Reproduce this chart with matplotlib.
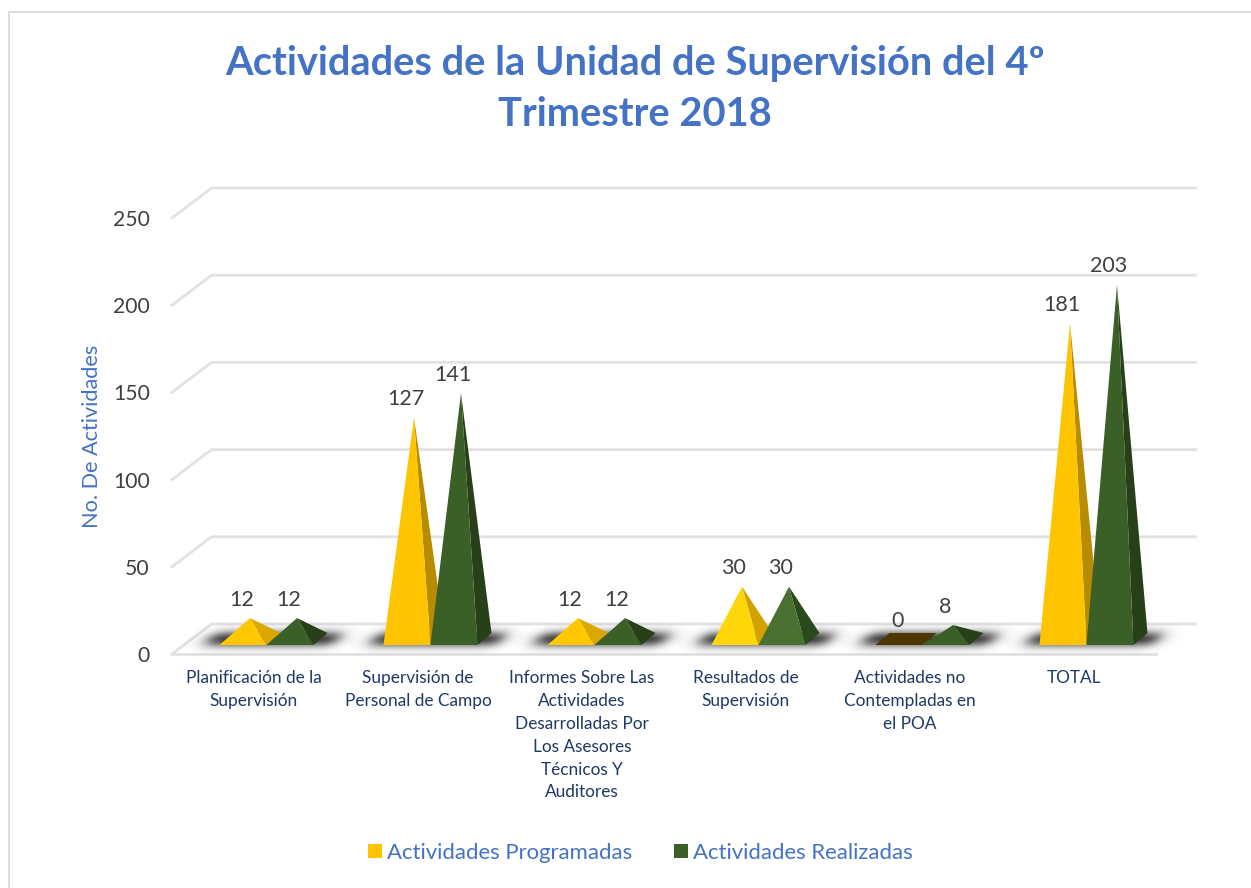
import numpy as np
import matplotlib
matplotlib.use("Agg")
import matplotlib.pyplot as plt
from matplotlib.patches import Polygon, Patch
from matplotlib.lines import Line2D

categories = ["Planificación de la\nSupervisión", "Supervisión de\nPersonal de Campo",
              "Informes Sobre Las\nActividades\nDesarrolladas Por\nLos Asesores\nTécnicos Y\nAuditores",
              "Resultados de\nSupervisión", "Actividades no\nContempladas en\nel POA", "TOTAL"]
programadas = [12, 127, 12, 30, 0, 181]
realizadas = [12, 141, 12, 30, 8, 203]
yticks = [0, 50, 100, 150, 200, 250]
title = "Actividades de la Unidad de Supervisión del 4º\nTrimestre 2018"
ylabel = "No. De Actividades"
series_names = ["Actividades Programadas", "Actividades Realizadas"]

W, H = 1251, 888
plt.rcParams['font.family'] = ['Lato', 'DejaVu Sans']
fig = plt.figure(figsize=(W / 100, H / 100), dpi=100, facecolor='white')
L, R, B, T = 172, 1156, 654, 218
ax = fig.add_axes([L / W, 1 - B / H, (R - L) / W, (B - T) / H])
ax.set_xlim(0, len(categories))
ax.set_ylim(0, 250)
ax.patch.set_alpha(0)
for s in ax.spines.values():
    s.set_visible(False)

px = len(categories) / (R - L)      # one pixel in category units
py = 250 / (B - T)                  # one pixel in value units
GRID = '#E2E2E2'
dx_wall, dy_wall = 39.5 * px, 30 * py

# frame (open to the right and the bottom)
fig.add_artist(Line2D([8.5 / W, 8.5 / W, 1], [0, 1 - 12.5 / H, 1 - 12.5 / H], color='#D9D9D9', lw=1.3))

# gridlines on the wall, plus their receding part
for v in yticks:
    ax.plot([0, dx_wall, 6 + dx_wall], [v, v + dy_wall, v + dy_wall], color=GRID, lw=2, clip_on=False,
            solid_joinstyle='miter', zorder=1)
ax.plot([0, 6], [0, 0], color=GRID, lw=2, clip_on=False, zorder=1)

bar_w = 47 * px
shift = 12.5 * px
dep_x, dep_y = 14 * px, 12 * py
y_front = 9 * py
y_mid = y_front + dep_y / 2


# soft shadow on the floor
def shadow(c):
    x0 = c + 0.5 + shift - bar_w
    x1 = c + 0.5 + shift + bar_w + dep_x
    xs = np.linspace(x0 - 55 * px, x1 + 55 * px, 400)
    ys = np.linspace(y_mid + 20 * py, y_mid - 20 * py, 80)
    gx, gy = np.meshgrid(xs, ys)
    xx = gx - (gy - y_mid) * (dep_x / dep_y) * 0.6
    fx = 0.5 * (np.tanh((xx - (x0 - 10 * px)) / (10 * px)) - np.tanh((xx - (x1 + 10 * px)) / (10 * px)))
    fy = np.exp(-(((gy - y_mid) / (8 * py)) ** 2))
    img = np.zeros(gx.shape + (4,))
    img[..., :3] = 0.2
    img[..., 3] = 0.95 * fx * fy
    ax.imshow(img, extent=(xs[0], xs[-1], ys[-1], ys[0]), aspect='auto', zorder=2,
              interpolation='bilinear', clip_on=False)


for c in range(len(categories)):
    shadow(c)
ax.set_xlim(0, len(categories))
ax.set_ylim(0, 250)

YEL = ('#FFC400', '#B88C00')
GRN = ('#3A5F27', '#27401A')
LIGHTER = {3: (('#FFD60A', '#D4A200'), ('#4A7032', '#2A4A1E')),
           0: (('#FFC800', '#DBA800'), GRN), 2: (('#FFC800', '#DBA800'), GRN)}


def pyramid(left, v, cols, z):
    right = left + bar_w
    ax_x = left + bar_w / 2 + dep_x / 2
    ax_y = y_mid + v
    if v == 0:
        ax.add_patch(Polygon([(left, y_front), (right, y_front), (right + dep_x, y_front + dep_y),
                              (left + dep_x, y_front + dep_y)], closed=True, fc='#4D3800', ec='none', zorder=z))
    else:
        ax.add_patch(Polygon([(right, y_front), (right + dep_x, y_front + dep_y), (ax_x, ax_y)],
                             closed=True, fc=cols[1], ec='none', zorder=z))
        ax.add_patch(Polygon([(left, y_front), (right, y_front), (ax_x, ax_y)],
                             closed=True, fc=cols[0], ec='none', zorder=z + 0.1))
    ax.annotate(str(v), xy=(left + bar_w / 2, ax_y), xytext=(-1 * 0.72, 18.5 * 0.72), textcoords='offset points',
                ha='center', va='center', fontsize=15.5, color='#404040', zorder=8, annotation_clip=False)


for c, (a, b) in enumerate(zip(programadas, realizadas)):
    cy, cg = LIGHTER.get(c, (YEL, GRN))
    mid = c + 0.5 + shift
    pyramid(mid - bar_w, a, cy, 3)
    pyramid(mid, b, cg, 4)

ax.set_xticks(np.arange(len(categories)) + 0.5, categories)
ax.set_yticks(yticks, [str(v) for v in yticks])
ax.tick_params(axis='x', length=0, pad=11.5, labelsize=12.4, labelcolor='#1F3864')
ax.tick_params(axis='y', length=0, pad=16, labelsize=15.2, labelcolor='#404040')
for t in ax.get_xticklabels():
    t.set_linespacing(1.53)
ax.set_ylabel(ylabel, fontsize=15.6, color='#4472C4')
ax.yaxis.set_label_coords((102 - L) / (R - L), 0.5)

fig.text(635 / W, 1 - 89 / H, title, ha='center', va='center', fontsize=28.7, fontweight='bold',
         color='#4472C4', linespacing=1.5)

handles = [Patch(fc=YEL[0], ec='none'), Patch(fc=GRN[0], ec='none')]
fig.legend(handles, series_names, loc='center', bbox_to_anchor=(640.5 / W, 1 - 853 / H), ncols=2, frameon=False,
           fontsize=15.9, labelcolor='#4472C4', handlelength=0.63, handleheight=0.63, handletextpad=0.22,
           columnspacing=1.9)

fig.savefig('out.png', dpi=100, facecolor='white')
